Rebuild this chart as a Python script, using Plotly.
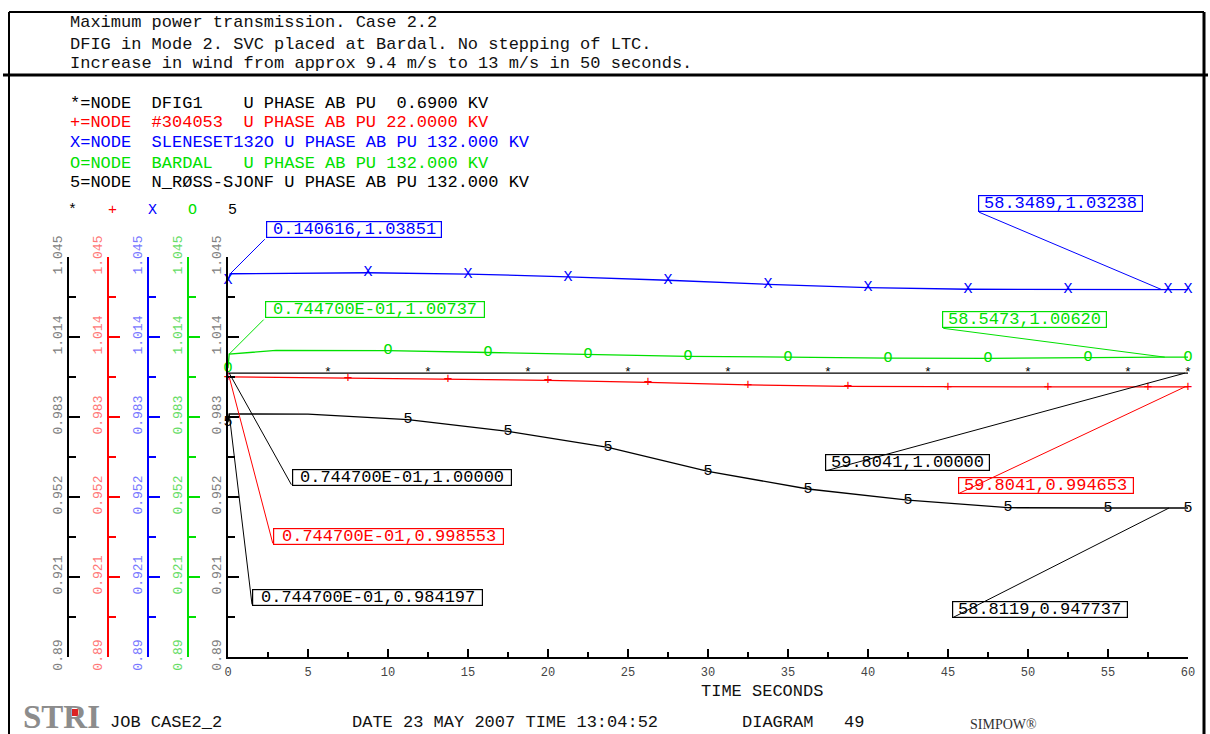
import numpy as np
import plotly.graph_objects as go

W, H = 1210, 734
MONO = "Liberation Mono, Courier New, monospace"
SERIF = "Liberation Serif, Times New Roman, serif"

# ---- node voltages (pu) versus time (s); k_* flags the points carrying a curve symbol ----
t_dfig1 = [0, 0.07447, 6.25, 12.5, 18.75, 25, 31.25, 37.5, 43.75, 50, 56.25, 59.8041, 60]
u_dfig1 = [1.0, 1.0, 1.0, 1.0, 1.0, 1.0, 1.0, 1.0, 1.0, 1.0, 1.0, 1.0, 1.0]
k_dfig1 = [0, 0, 1, 1, 1, 1, 1, 1, 1, 1, 1, 0, 1]

t_304053 = [0, 0.07447, 7.5, 13.75, 20, 26.25, 32.5, 38.75, 45, 51.25, 57.5, 59.8041, 60]
u_304053 = [0.99855, 0.998553, 0.99805, 0.99770, 0.99720, 0.99645, 0.99545, 0.99490,
            0.99468, 0.99465, 0.99465, 0.994653, 0.994653]
k_304053 = [1, 0, 1, 1, 1, 1, 1, 1, 1, 1, 1, 0, 1]

t_sleneset = [0, 0.140616, 8.75, 15, 21.25, 27.5, 33.75, 40, 46.25, 52.5, 58.3489, 58.75, 60]
u_sleneset = [1.0358, 1.03851, 1.0389, 1.0384, 1.0373, 1.0360, 1.0344, 1.0331, 1.0325,
              1.0324, 1.03238, 1.03238, 1.03238]
k_sleneset = [1, 0, 1, 1, 1, 1, 1, 1, 1, 1, 0, 1, 1]

t_bardal = [0, 0.07447, 3, 10, 16.25, 22.5, 28.75, 35, 41.25, 47.5, 53.75, 58.5473, 60]
u_bardal = [1.0019, 1.00737, 1.0088, 1.0087, 1.0080, 1.0073, 1.0065, 1.0062, 1.0058,
            1.0057, 1.0061, 1.00620, 1.00620]
k_bardal = [1, 0, 0, 1, 1, 1, 1, 1, 1, 1, 1, 0, 1]

t_rossj = [0, 0.07447, 5, 11.25, 17.5, 23.75, 30, 36.25, 42.5, 48.75, 55, 58.8119, 60]
u_rossj = [0.9810, 0.984197, 0.9841, 0.9820, 0.9774, 0.9712, 0.9619, 0.9551, 0.9508,
           0.94785, 0.94774, 0.947737, 0.947737]
k_rossj = [1, 0, 0, 1, 1, 1, 1, 1, 1, 1, 1, 0, 1]

NODE_TEXT = [
    "*=NODE  DFIG1    U PHASE AB PU  0.6900 KV",
    "+=NODE  #304053  U PHASE AB PU 22.0000 KV",
    "X=NODE  SLENESET132O U PHASE AB PU 132.000 KV",
    "O=NODE  BARDAL   U PHASE AB PU 132.000 KV",
    "5=NODE  N_RØSS-SJONF U PHASE AB PU 132.000 KV",
]
SYMBOLS = ["*", "+", "X", "O", "5"]
T_DATA = [t_dfig1, t_304053, t_sleneset, t_bardal, t_rossj]
U_DATA = [u_dfig1, u_304053, u_sleneset, u_bardal, u_rossj]
K_DATA = [k_dfig1, k_304053, k_sleneset, k_bardal, k_rossj]

# value read-outs: series index, time, voltage
call_series = [2, 2, 3, 3, 0, 1, 4, 0, 1, 4]
call_t = [0.140616, 58.3489, 0.0744700, 58.5473, 0.0744700, 0.0744700, 0.0744700,
          59.8041, 59.8041, 58.8119]
call_u = [1.03851, 1.03238, 1.00737, 1.00620, 1.00000, 0.998553, 0.984197,
          1.00000, 0.994653, 0.947737]

Y_TICKS = [0.89, 0.921, 0.952, 0.983, 1.014, 1.045]
Y_TICKTEXT = ["0.89", "0.921", "0.952", "0.983", "1.014", "1.045"]
X_TICKS = [0, 5, 10, 15, 20, 25, 30, 35, 40, 45, 50, 55, 60]

# ---- styling / placement ----
COLORS = ["#000000", "#ff0000", "#0000ff", "#00e000", "#000000"]
PALE = ["#808080", "#ff7878", "#7878ff", "#66dd66", "#808080"]
AXES = ["y2", "y3", "y4", "y5", "y"]
AXIS_PX = [68, 108, 148, 188, 228]
PX_L, PX_R, PX_T, PX_B = 228, 1188, 257, 657
# offset (screen px) from the read-out point to the lower-left corner of its box
CALL_DX = [36, -184, 36, -223, 63, 44, 23, -360, -227, -217]
CALL_DY = [-36, -78, -36, -29, 113, 168, 192, 98, 107, 110]
BOX_H = 17
CHAR_W = 11


def nb(s):
    return s.replace(" ", "\u00a0")


def simpow_num(x):
    """SIMPOW style: six significant digits, exponent form below 0.1."""
    if abs(x) < 0.1:
        e = int(np.floor(np.log10(abs(x)))) + 1
        return f"{x / 10 ** e:.6f}E{e:+03d}"
    return np.format_float_positional(x, precision=6, unique=False, fractional=False, trim="k")


def px(x):
    return x / W


def py(y):
    return 1 - y / H


fig = go.Figure()

for i in range(5):
    fig.add_trace(go.Scatter(
        x=T_DATA[i], y=U_DATA[i], mode="lines", yaxis=AXES[i],
        line=dict(color=COLORS[i], width=1.3), hoverinfo="skip", showlegend=False))
    mt = [t for t, k in zip(T_DATA[i], K_DATA[i]) if k]
    mu = [u for u, k in zip(U_DATA[i], K_DATA[i]) if k]
    fig.add_trace(go.Scatter(
        x=mt, y=mu, mode="text", yaxis=AXES[i], text=[SYMBOLS[i]] * len(mt),
        textposition="middle center", cliponaxis=False,
        textfont=dict(family=MONO, size=15 if SYMBOLS[i] != "*" else 13, color=COLORS[i]),
        hoverinfo="skip", showlegend=False))

y_dom = [py(PX_B), py(PX_T)]


def y_style(i):
    return dict(
        range=[0.889999, 1.045001], domain=y_dom,
        tickmode="array", tickvals=Y_TICKS, ticktext=Y_TICKTEXT,
        ticks="inside", ticklen=11, tickwidth=2, tickcolor=COLORS[i],
        showline=True, linecolor=COLORS[i], linewidth=2,
        showgrid=False, zeroline=False, tickangle=-90,
        tickfont=dict(family=MONO, size=13, color=PALE[i]),
        minor=dict(ticks="inside", ticklen=7, tickwidth=2, tickcolor=COLORS[i],
                   tick0=0.89, dtick=0.0155),
        fixedrange=True, automargin=False)


layout_axes = {}
for i in range(5):
    st = y_style(i)
    name = "yaxis" if AXES[i] == "y" else "yaxis" + AXES[i][1:]
    if AXES[i] == "y":
        st.update(anchor="x")
    else:
        st.update(overlaying="y", anchor="free", position=px(AXIS_PX[i]), side="left")
    layout_axes[name] = st

shapes = []
annotations = []

# read-out boxes with leader lines
for j in range(len(call_t)):
    s = call_series[j]
    c = COLORS[s]
    label = f"{simpow_num(call_t[j])},{simpow_num(call_u[j])}"
    w = CHAR_W * len(label)
    dx, dy = CALL_DX[j], CALL_DY[j]
    # leader from the box corner to the point
    annotations.append(dict(
        x=call_t[j], y=call_u[j], xref="x", yref=AXES[s], text="",
        showarrow=True, arrowhead=0, arrowwidth=1, arrowcolor=c, standoff=0,
        ax=dx, ay=dy))
    # frame
    annotations.append(dict(
        x=call_t[j], y=call_u[j], xref="x", yref=AXES[s], showarrow=False,
        xshift=dx, yshift=-dy, xanchor="left", yanchor="bottom", text="\u00a0",
        width=w - 4, height=BOX_H - 4, borderpad=1, borderwidth=1.2, bordercolor=c,
        font=dict(family=MONO, size=6, color=c)))
    # value text
    annotations.append(dict(
        x=call_t[j], y=call_u[j], xref="x", yref=AXES[s], showarrow=False,
        xshift=dx + w / 2, yshift=-dy + BOX_H / 2, xanchor="center", yanchor="middle",
        text=label, font=dict(family=MONO, size=17, color=c)))

# page frame
frame = [
    (9, 12, 1204, 12, 2), (9, 12, 9, 734, 2), (1204, 12, 1204, 734, 3), (3, 75, 1208, 75, 3),
]
for x0, y0, x1, y1, lw in frame:
    shapes.append(dict(type="line", xref="paper", yref="paper", x0=px(x0), y0=py(y0),
                       x1=px(x1), y1=py(y1), line=dict(color="#000000", width=lw)))


def text_at(x, y, s, color="#000000", size=17, family=MONO, anchor="left"):
    annotations.append(dict(x=px(x), y=py(y), xref="paper", yref="paper", showarrow=False,
                            xanchor=anchor, yanchor="middle", text=nb(s),
                            font=dict(family=family, size=size, color=color)))


# heading
text_at(68, 22, "Maximum power transmission. Case 2.2", "#111111")
text_at(68, 44, "DFIG in Mode 2. SVC placed at Bardal. No stepping of LTC.", "#111111")
text_at(68, 64, "Increase in wind from approx 9.4 m/s to 13 m/s in 50 seconds.", "#111111")

# node list and axis keys
for i in range(5):
    text_at(68, 103 + 20 * i, NODE_TEXT[i], COLORS[i])
    text_at(AXIS_PX[i] + 4, 211, SYMBOLS[i], COLORS[i], size=15, anchor="center")

text_at(762, 691, "TIME SECONDS", "#111111", anchor="center")

# footer
text_at(21, 717, "<b>STRI</b>", "#8c8c8c", size=33, family=SERIF)
shapes.append(dict(type="rect", xref="paper", yref="paper", x0=px(72), x1=px(78),
                   y0=py(716), y1=py(709), fillcolor="#dd2222", line=dict(width=0)))
text_at(108, 722, "JOB CASE2_2", "#111111")
text_at(350, 722, "DATE 23 MAY 2007 TIME 13:04:52", "#111111")
text_at(740, 722, "DIAGRAM   49", "#111111")
text_at(968, 724, "SIMPOW®", "#333333", size=14, family=SERIF)

fig.update_layout(
    width=W, height=H, margin=dict(l=0, r=0, t=0, b=0, autoexpand=False),
    paper_bgcolor="white", plot_bgcolor="white", showlegend=False,
    xaxis=dict(domain=[px(PX_L), px(PX_R)], range=[0, 60], anchor="y",
               tickmode="array", tickvals=X_TICKS, ticktext=[str(v) for v in X_TICKS],
               ticks="inside", ticklen=8, tickwidth=1.5, tickcolor="#000000",
               minor=dict(ticks="inside", ticklen=5, tickwidth=1.5, tickcolor="#000000",
                          tick0=0, dtick=2.5),
               showline=True, linecolor="#000000", linewidth=2, ticklabelstandoff=3,
               showgrid=False, zeroline=False, fixedrange=True, automargin=False,
               tickfont=dict(family=MONO, size=12, color="#444444")),
    shapes=shapes, annotations=annotations,
    **layout_axes,
)

fig.write_html("out.html")
